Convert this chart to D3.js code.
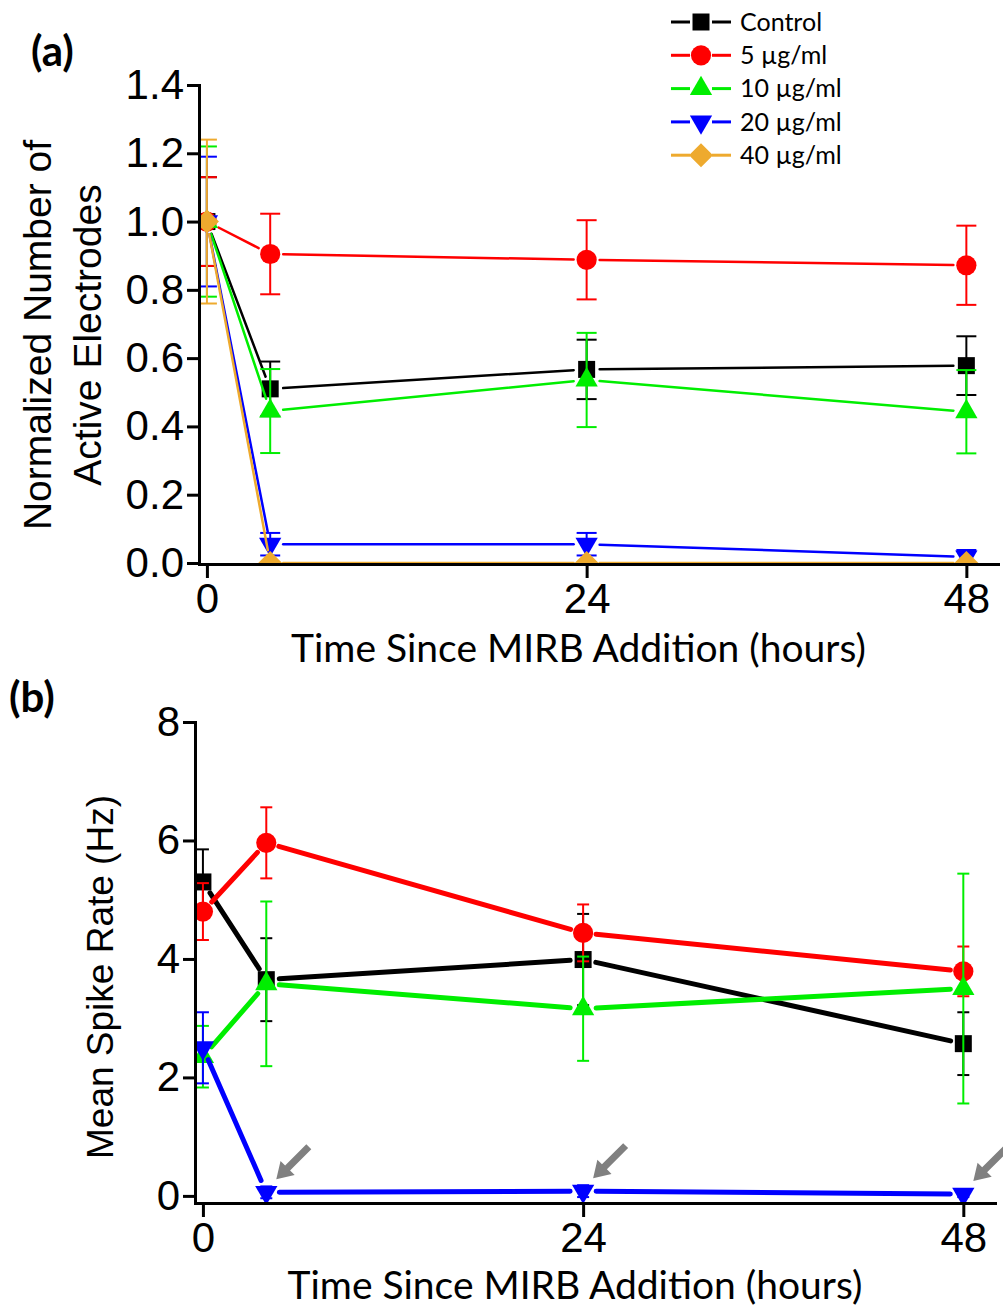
<!DOCTYPE html>
<html>
<head>
<meta charset="utf-8">
<script src="https://cdn.jsdelivr.net/npm/d3@7"></script>
<style>
  body { margin: 0; background: #fff; }
  svg { display: block; }
</style>
</head>
<body>
<svg width="1003" height="1307"></svg>
<script>
const svg = d3.select('svg');

// shared
const hours = [0, 4, 24, 48];
const hourTicks = [0, 24, 48];
const names = ['Control', '5 µg/ml', '10 µg/ml', '20 µg/ml', '40 µg/ml'];
const colors = ['#000000', '#ff0000', '#00ee00', '#0000ff', '#eeaa2e'];
const symbols = ['square', 'circle', 'up', 'down', 'diamond'];

// panel (a): normalized number of active electrodes
const activeControl = [1.0, 0.51, 0.567, 0.578];
const activeControlErr = [0.13, 0.08, 0.087, 0.086];
const active5 = [1.0, 0.905, 0.888, 0.872];
const active5Err = [0.13, 0.118, 0.116, 0.116];
const active10 = [1.0, 0.445, 0.536, 0.443];
const active10Err = [0.22, 0.123, 0.138, 0.122];
const active20 = [1.0, 0.055, 0.055, 0.018];
const active20Err = [0.19, 0.033, 0.033, 0.02];
const active40 = [1.0, 0, 0, 0];
const active40Err = [0.24, 0, 0, 0];
const activeTicks = [0, 0.2, 0.4, 0.6, 0.8, 1.0, 1.2, 1.4];

// panel (b): mean spike rate
const rateControl = [5.3, 3.65, 3.99, 2.57];
const rateControlErr = [0.55, 0.7, 0.77, 0.53];
const rate5 = [4.8, 5.96, 4.44, 3.79];
const rate5Err = [0.48, 0.6, 0.48, 0.42];
const rate10 = [2.35, 3.58, 3.16, 3.5];
const rate10Err = [0.52, 1.39, 0.88, 1.94];
const rate20 = [2.5, 0.06, 0.08, 0.03];
const rate20Err = [0.6, 0.1, 0.1, 0.05];
const rateTicks = [0, 2, 4, 6, 8];
const arrowHours = [4, 24, 48];

function symbolPath(kind) {
  if (kind === 'circle') return d3.symbol(d3.symbolCircle, 320)();
  if (kind === 'up' || kind === 'down') return d3.symbol(d3.symbolTriangle, 215)();
  return d3.symbol(d3.symbolSquare, 289)();
}
function symbolTurn(kind) {
  if (kind === 'down') return 180;
  if (kind === 'diamond') return 45;
  return 0;
}

function panel(o) {
  const x = d3.scaleLinear().domain([-0.5, 50]).range([o.left, o.right]);
  const y = d3.scaleLinear().domain(o.yDomain).range([o.bottom, o.top]);
  const g = svg.append('g');

  g.append('clipPath').attr('id', o.id)
    .append('rect')
    .attr('x', o.left).attr('y', 0)
    .attr('width', o.right - o.left).attr('height', o.bottom);

  const plot = g.append('g').attr('clip-path', `url(#${o.id})`);

  o.series.forEach((s) => {
    const sg = plot.append('g');
    const pts = hours.map((h, i) => [x(h), y(s.values[i])]);

    // connecting lines, stopped short of the symbols
    const gap = 13;
    for (let i = 0; i < pts.length - 1; i++) {
      const [x0, y0] = pts[i];
      const [x1, y1] = pts[i + 1];
      const d = Math.hypot(x1 - x0, y1 - y0);
      if (d < gap * 2) continue;
      const ux = (x1 - x0) / d, uy = (y1 - y0) / d;
      sg.append('line')
        .attr('x1', x0 + ux * gap).attr('y1', y0 + uy * gap)
        .attr('x2', x1 - ux * gap).attr('y2', y1 - uy * gap)
        .attr('stroke', s.color)
        .attr('stroke-width', o.lineWidth)
        .attr('stroke-linecap', 'round');
    }

    // error bars
    const eb = sg.selectAll('.eb').data(hours.map((h, i) => ({ h, v: s.values[i], e: s.errors[i] })))
      .enter().append('g').attr('stroke', s.color).attr('stroke-width', 2);
    eb.append('line')
      .attr('x1', (d) => x(d.h)).attr('x2', (d) => x(d.h))
      .attr('y1', (d) => y(d.v + d.e)).attr('y2', (d) => y(d.v - d.e));
    eb.append('line')
      .attr('x1', (d) => x(d.h) - o.cap).attr('x2', (d) => x(d.h) + o.cap)
      .attr('y1', (d) => y(d.v + d.e)).attr('y2', (d) => y(d.v + d.e));
    eb.append('line')
      .attr('x1', (d) => x(d.h) - o.cap).attr('x2', (d) => x(d.h) + o.cap)
      .attr('y1', (d) => y(d.v - d.e)).attr('y2', (d) => y(d.v - d.e));

    // symbols
    sg.selectAll('.sym').data(hours.map((h, i) => [h, s.values[i]]))
      .enter().append('path')
      .attr('d', symbolPath(s.symbol))
      .attr('transform', (d) => `translate(${x(d[0])},${y(d[1])}) rotate(${symbolTurn(s.symbol)})`)
      .attr('fill', s.color);
  });

  // axes
  const xAxis = d3.axisBottom(x).tickValues(hourTicks).tickSize(14).tickSizeOuter(0).tickPadding(5);
  const gx = g.append('g').attr('transform', `translate(0,${o.bottom})`).call(xAxis);
  gx.selectAll('text')
    .attr('font-family', '"Liberation Sans Narrow", "Liberation Sans", Arial, sans-serif')
    .attr('font-size', 42).attr('fill', '#000');

  const yAxis = d3.axisLeft(y).tickValues(o.yTicks).tickFormat(o.yFormat)
    .tickSize(12).tickSizeOuter(0).tickPadding(3);
  const gy = g.append('g').attr('transform', `translate(${o.left},0)`).call(yAxis);
  gy.selectAll('text')
    .attr('font-family', '"Liberation Sans", Arial, sans-serif')
    .attr('font-size', 42).attr('fill', '#000');

  g.selectAll('.domain, .tick line').attr('stroke', '#000').attr('stroke-width', 3);
  g.selectAll('.domain').attr('stroke-linecap', 'square');

  // x title
  g.append('text')
    .attr('x', (o.left + o.right) / 2 - 20)
    .attr('y', o.xTitleY)
    .attr('text-anchor', 'middle')
    .attr('font-family', 'Lato, "Open Sans", sans-serif')
    .attr('font-size', 39)
    .text('Time Since MIRB Addition (hours)');

  // y title lines
  o.yTitle.forEach((t, i) => {
    g.append('text')
      .attr('transform', `translate(${o.yTitleX[i]},${o.yTitleMid}) rotate(-90)`)
      .attr('text-anchor', 'middle')
      .attr('font-family', '"Liberation Sans", Arial, sans-serif')
      .attr('font-size', o.yTitleSize)
      .text(t);
  });

  // panel letter
  g.append('text')
    .attr('x', o.letterX).attr('y', o.letterY)
    .attr('font-family', 'Lato, "Open Sans", sans-serif')
    .attr('font-weight', 'bold')
    .attr('font-size', 42)
    .text(o.letter);

  return { x, y, g };
}

const seriesA = [
  { values: activeControl, errors: activeControlErr },
  { values: active5, errors: active5Err },
  { values: active10, errors: active10Err },
  { values: active20, errors: active20Err },
  { values: active40, errors: active40Err }
].map((s, i) => ({ ...s, color: colors[i], symbol: symbols[i] }));

const seriesB = [
  { values: rateControl, errors: rateControlErr },
  { values: rate5, errors: rate5Err },
  { values: rate10, errors: rate10Err },
  { values: rate20, errors: rate20Err }
].map((s, i) => ({ ...s, color: colors[i], symbol: symbols[i] }));

panel({
  id: 'clipA', letter: '(a)', letterX: 31, letterY: 66,
  left: 199, right: 998, top: 85, bottom: 564,
  yDomain: [-0.003, 1.4], yTicks: activeTicks, yFormat: d3.format('.1f'),
  series: seriesA, lineWidth: 2.5, cap: 10,
  xTitleY: 662,
  yTitle: ['Normalized Number of', 'Active Electrodes'], yTitleX: [51, 101], yTitleMid: 335, yTitleSize: 39
});

const pb = panel({
  id: 'clipB', letter: '(b)', letterX: 9, letterY: 712,
  left: 195, right: 995, top: 722, bottom: 1203,
  yDomain: [-0.12, 8], yTicks: rateTicks, yFormat: d3.format('d'),
  series: seriesB, lineWidth: 5, cap: 6,
  xTitleY: 1299,
  yTitle: ['Mean Spike Rate (Hz)'], yTitleX: [113], yTitleMid: 977, yTitleSize: 37
});

// grey arrows pointing at the 20 µg/ml points
pb.g.selectAll('.arrow').data(arrowHours)
  .enter().append('path')
  .attr('d', 'M0,-3.5 L30,-3.5 L30,-10 L46,0 L30,10 L30,3.5 L0,3.5 Z')
  .attr('transform', (h) => {
    const i = hours.indexOf(h);
    const tx = pb.x(h) + 10, ty = pb.y(rate20[i]) - 13;
    return `translate(${tx},${ty}) rotate(135) translate(-46,0)`;
  })
  .attr('fill', '#808080');

// legend
const legend = svg.append('g').attr('transform', 'translate(671,22)');
const row = legend.selectAll('g').data(names).enter().append('g')
  .attr('transform', (d, i) => `translate(0,${i * 33.3})`);
row.append('line').attr('x1', 0).attr('x2', 19).attr('stroke', (d, i) => colors[i]).attr('stroke-width', 3);
row.append('line').attr('x1', 41).attr('x2', 60).attr('stroke', (d, i) => colors[i]).attr('stroke-width', 3);
row.append('path')
  .attr('d', (d, i) => symbolPath(symbols[i]))
  .attr('transform', (d, i) => `translate(30,0) rotate(${symbolTurn(symbols[i])})`)
  .attr('fill', (d, i) => colors[i]);
row.append('text')
  .attr('x', 69).attr('dy', '0.35em')
  .attr('font-family', 'Lato, "Open Sans", sans-serif')
  .attr('font-size', 25)
  .text((d) => d);
</script>
</body>
</html>
